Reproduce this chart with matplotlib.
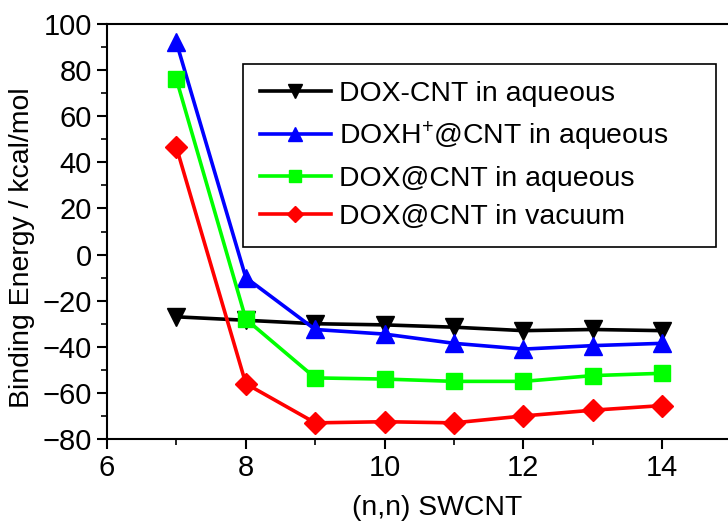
import matplotlib
matplotlib.use("Agg")
import matplotlib.pyplot as plt
from matplotlib.ticker import MultipleLocator

plt.rcParams['font.family'] = ['Liberation Sans', 'DejaVu Sans']
plt.rcParams['mathtext.fontset'] = 'custom'
plt.rcParams['mathtext.rm'] = 'Liberation Sans'
plt.rcParams['mathtext.it'] = 'Liberation Sans'

n = [7, 8, 9, 10, 11, 12, 13, 14]
dox_cnt_aq = [-27, -28.5, -30, -30.5, -31.5, -33, -32.5, -33]
doxh_at_cnt_aq = [92, -10, -32.5, -34.5, -38.5, -41, -39.5, -38.5]
dox_at_cnt_aq = [76, -28, -53.5, -54, -55, -55, -52.5, -51.5]
dox_at_cnt_vac = [46.5, -56, -73, -72.5, -73, -70, -67.5, -65.5]

labels = ["DOX-CNT in aqueous", "DOXH$^{+}$@CNT in aqueous",
          "DOX@CNT in aqueous", "DOX@CNT in vacuum"]

fig = plt.figure(figsize=(7.28, 5.23), dpi=100)
ax = fig.add_axes([0.147, 0.1606, 0.858, 0.7935])

ax.plot(n, dox_cnt_aq, color="black", marker="v", ms=13, lw=2.6, label=labels[0])
ax.plot(n, doxh_at_cnt_aq, color="#0000ff", marker="^", ms=13, lw=2.6, label=labels[1])
ax.plot(n, dox_at_cnt_aq, color="#00ff00", marker="s", ms=11, lw=2.6, label=labels[2])
ax.plot(n, dox_at_cnt_vac, color="#ff0000", marker="D", ms=11, lw=2.6, label=labels[3])

ax.set_xlim(6, 15)
ax.set_ylim(-80, 100)
ax.xaxis.set_major_locator(MultipleLocator(2))
ax.xaxis.set_minor_locator(MultipleLocator(1))
ax.yaxis.set_major_locator(MultipleLocator(20))
ax.yaxis.set_minor_locator(MultipleLocator(10))
ax.tick_params(which="major", direction="out", length=7, width=1.5, labelsize=21, pad=4)
ax.tick_params(which="minor", direction="out", length=4, width=1.2)
ax.spines["right"].set_visible(False)
for s in ["left", "bottom", "top"]:
    ax.spines[s].set_linewidth(1.5)

ax.set_xlabel("(n,n) SWCNT", fontsize=20.4, labelpad=9, x=0.528)
ax.set_ylabel("Binding Energy / kcal/mol", fontsize=20.4, labelpad=5, y=0.46)

leg = ax.legend(loc="upper left", bbox_to_anchor=(0.2174, 0.4747, 0.757, 0.4293),
                mode="expand", borderaxespad=0,
                fontsize=20.4, fancybox=False, framealpha=1, edgecolor="black",
                markerscale=0.75, handlelength=2.5, labelspacing=0.45,
                handletextpad=0.3, borderpad=0.6)
leg.get_frame().set_linewidth(1.2)

fig.savefig("out.png", dpi=100)
